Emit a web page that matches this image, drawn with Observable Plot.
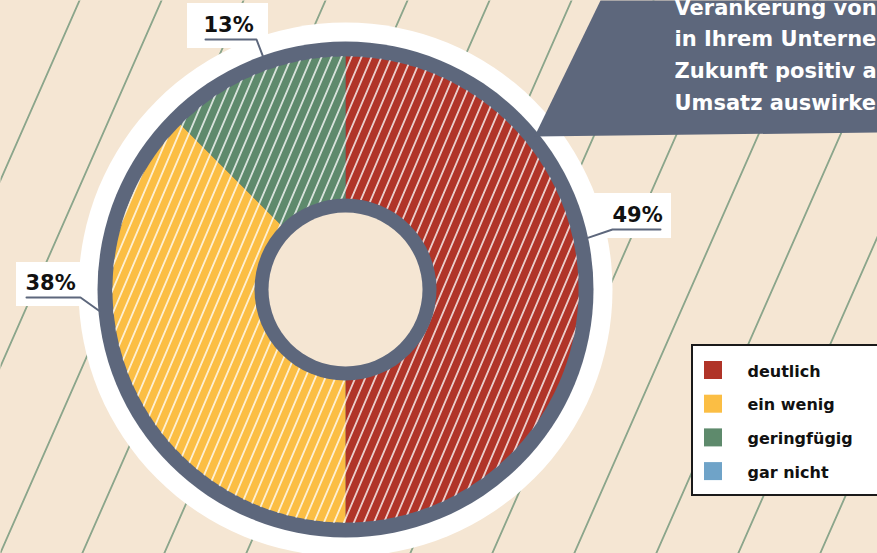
<!DOCTYPE html>
<html><head><meta charset="utf-8">
<script src="https://cdn.jsdelivr.net/npm/d3@7"></script>
<script src="https://cdn.jsdelivr.net/npm/@observablehq/plot@0.6"></script>
<style>
html,body{margin:0;padding:0;background:#f5e6d3;overflow:hidden;}
#chart{width:877px;height:553px;}
</style></head><body><div id="chart"></div>
<script>
// ---- data ----
const categories = ["deutlich", "ein wenig", "geringfügig", "gar nicht"];
const drawnShares = [50, 37.5, 12.5, 0];          // slice sizes as drawn in the picture
const labelValues = [49, 38, 13];                 // printed percentages
const colors = ["#b03428", "#fbbe44", "#5e8a6c", "#6fa3c8"];
const bubbleLines = ["Verankerung von", "in Ihrem Unternehmen", "Zukunft positiv auf", "Umsatz auswirken?"];

// ---- layout ----
const W = 877, H = 553;
const C = {x: 345, y: 289};
const R = {white: 267, slate: 248, pie: 233, hole: 91, holeInner: 77};
const SLATE = "#5d677c", BEIGE = "#f5e6d3";
const FONT = "'DejaVu Sans', Verdana, sans-serif";
const labelLayout = [
  {angle: 78,    elbow: [612, 229], end: [660, 229], textX: 612, base: 221, box: [592, 671, 193, 238]},
  {angle: 265,   elbow: [80, 297],  end: [26, 297],  textX: 25,  base: 289, box: [16, 81, 262, 306]},
  {angle: 340.5, elbow: [256, 39],  end: [205, 39],  textX: 203, base: 31,  box: [187, 268, 3, 48]}
];
const bubbleShape = [[600, 0], [W + 5, 0], [W + 5, 132], [534, 136]];

// ---- derived ----
const rad = Math.PI / 180;
const polar = (a, r) => [C.x + r * Math.sin(a), C.y - r * Math.cos(a)];
const arcs = d3.pie().sort(null).startAngle(0).endAngle(2 * Math.PI)(drawnShares);
const slicePts = [];
arcs.forEach((a, i) => {
  if (a.value <= 0) return;
  slicePts.push({x: C.x, y: C.y, cat: categories[i]});
  const n = Math.ceil((a.endAngle - a.startAngle) / rad);
  for (let k = 0; k <= n; k++) {
    const t = a.startAngle + (a.endAngle - a.startAngle) * k / n;
    const [x, y] = polar(t, R.pie);
    slicePts.push({x, y, cat: categories[i]});
  }
});
const labels = labelValues.map((v, i) => ({text: v + "%", ...labelLayout[i]}));
const leaderPts = labels.flatMap((l, i) => {
  const [sx, sy] = polar(l.angle * rad, R.slate - 1);
  return [{x: sx, y: sy, z: i}, {x: l.elbow[0], y: l.elbow[1], z: i}, {x: l.end[0], y: l.end[1], z: i}];
});
const center = [C];
const bubblePts = bubbleShape.map(([x, y]) => ({x, y}));

const chart = Plot.plot({
  width: W, height: H,
  margin: 0,
  x: {domain: [0, W], range: [0, W], axis: null},
  y: {domain: [0, H], range: [0, H], axis: null},
  color: {domain: categories, range: colors},
  style: {background: BEIGE, overflow: "hidden"},
  marks: [
    Plot.frame({fill: "url(#bgLines)", stroke: "none"}),
    Plot.dot(center, {x: "x", y: "y", r: R.white, fill: "white", stroke: "none"}),
    Plot.dot(center, {x: "x", y: "y", r: R.slate, fill: SLATE, stroke: "none"}),
    Plot.line(slicePts, {x: "x", y: "y", z: "cat", fill: "cat", stroke: "none", curve: "linear"}),
    Plot.dot(center, {x: "x", y: "y", r: R.pie + 0.5, fill: "url(#hatch)", stroke: "none"}),
    Plot.dot(center, {x: "x", y: "y", r: R.hole, fill: SLATE, stroke: "none"}),
    Plot.dot(center, {x: "x", y: "y", r: R.holeInner, fill: BEIGE, stroke: "none"}),
    // speech bubble
    Plot.line(bubblePts, {x: "x", y: "y", fill: SLATE, stroke: "none"}),
    Plot.text(bubbleLines, {x: () => 674, y: (d, i) => 14 + i * 31.7, text: d => d, textAnchor: "start", lineAnchor: "bottom",
      fill: "white", fontSize: 21, fontWeight: "bold", fontFamily: FONT}),
    // value labels
    Plot.rect(labels, {x1: d => d.box[0], x2: d => d.box[1], y1: d => d.box[2], y2: d => d.box[3], fill: "white"}),
    Plot.line(leaderPts, {x: "x", y: "y", z: "z", stroke: SLATE, strokeWidth: 2}),
    Plot.text(labels, {x: "textX", y: "base", text: "text", textAnchor: "start", lineAnchor: "bottom",
      fill: "#111", fontSize: 21, fontWeight: "bold", fontFamily: FONT}),
    // legend
    Plot.rect([0], {x1: () => 692, x2: () => W + 10, y1: () => 345, y2: () => 495, fill: "white", stroke: "#1a1a1a", strokeWidth: 2}),
    Plot.rect(categories, {x1: () => 704, x2: () => 722, y1: (d, i) => 361 + i * 33.7, y2: (d, i) => 379 + i * 33.7, fill: d => d}),
    Plot.text(categories, {x: () => 747, y: (d, i) => 376 + i * 33.7, text: d => d, textAnchor: "start", lineAnchor: "bottom",
      fill: "#111", fontSize: 16, fontWeight: "bold", fontFamily: FONT})
  ]
});

const svg = d3.select(chart.tagName === "svg" ? chart : chart.querySelector("svg"));
const defs = svg.insert("defs", ":first-child");
const bg = defs.append("pattern").attr("id", "bgLines").attr("patternUnits", "userSpaceOnUse")
  .attr("width", 82).attr("height", 20).attr("patternTransform", "skewX(-23.75)");
bg.append("line").attr("x1", 79).attr("x2", 79).attr("y1", -2).attr("y2", 22)
  .attr("stroke", "#5e8a6c").attr("stroke-width", 1.4);
const hatch = defs.append("pattern").attr("id", "hatch").attr("patternUnits", "userSpaceOnUse")
  .attr("width", 10).attr("height", 10).attr("patternTransform", "skewX(-23)");
hatch.append("line").attr("x1", 5).attr("x2", 5).attr("y1", -2).attr("y2", 12)
  .attr("stroke", "white").attr("stroke-width", 1.5);

document.getElementById("chart").appendChild(chart);
</script></body></html>
